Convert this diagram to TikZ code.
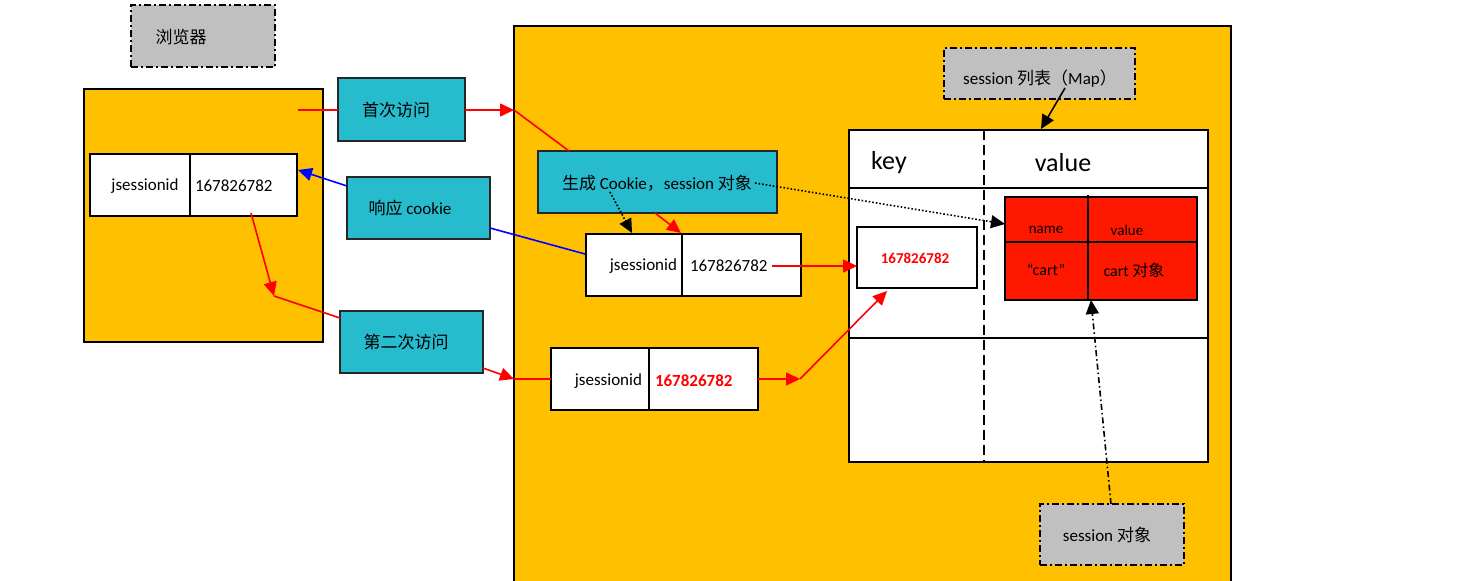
\documentclass[tikz,border=0pt]{standalone}
\usepackage{fontspec}
\setmainfont{Carlito}
\newfontfamily\cjk{Noto Sans CJK SC}
\usetikzlibrary{arrows.meta,fit}
\definecolor{amber}{RGB}{255,192,0}
\definecolor{tealbox}{RGB}{38,188,206}
\definecolor{greybox}{RGB}{192,192,192}
\definecolor{cellred}{RGB}{255,24,0}
\newcommand\zh[1]{{\cjk #1}}

\begin{document}
\begin{tikzpicture}[x=1pt,y=-1pt,
  font=\fontsize{17}{20}\selectfont,
  every node/.style={inner sep=0pt, outer sep=0pt},
  panel/.style={draw=black, line width=2pt, fill=amber},
  tag/.style={draw=black, line width=2pt, fill=greybox,
    dash pattern=on 7pt off 3pt on 2pt off 3pt},
  action/.style={draw=black!85, line width=2pt, fill=tealbox},
  cell/.style={draw=black, line width=1.5pt, fill=white},
  redcell/.style={draw=black, line width=1.5pt, fill=cellred},
  tip/.style={-{Triangle[length=14pt,width=13pt]}},
  redline/.style={draw=red, line width=1.6pt},
  blueline/.style={draw=blue, line width=1.6pt},
  hot/.style={text=red, font=\fontsize{17}{20}\selectfont\bfseries},
]
\useasboundingbox (0,0) rectangle (1470,581);

% browser side
\node[tag, fit={(131,5) (275,67)}] (browsertag) {};
\node at (181,37) (browserlbl) {\zh{浏览器}};
\node[panel, fit={(84,89) (323,342)}] (browser) {};
\node[cell, fit={(90,154) (190,216)}] (bkey) {};
\node[cell, fit={(190,154) (297,216)}] (bval) {};
\node at (145,186) (bkeyt) {jsessionid};
\node[anchor=west] at (195,186) (bvalt) {167826782};

% server side
\node[panel, fit={(514,26) (1231,590)}] (server) {};

% request / response steps
\node[action, fit={(338,78) (465,141)}] (first) {};
\node at (396,110) (firstt) {\zh{首次访问}};
\node[action, fit={(347,177) (490,239)}] (resp) {};
\node at (410,208) (respt) {\zh{响应} cookie};
\node[action, fit={(340,311) (483,373)}] (second) {};
\node at (406,342) (secondt) {\zh{第二次访问}};
\node[action, fit={(538,151) (777,213)}] (gen) {};
\node at (657,183) (gent) {\zh{生成} Cookie\zh{，}session \zh{对象}};

% cookies held on the server
\node[cell, fit={(586,234) (682,296)}] (s1key) {};
\node[cell, fit={(682,234) (801,296)}] (s1val) {};
\node[anchor=east] at (677,266) (s1keyt) {jsessionid};
\node[anchor=west] at (690,266) (s1valt) {167826782};
\node[cell, fit={(551,348) (649,410)}] (s2key) {};
\node[cell, fit={(649,348) (758,410)}] (s2val) {};
\node[anchor=east] at (642,381) (s2keyt) {jsessionid};
\node[hot, anchor=west] at (655,381) (s2valt) {167826782};

% session map
\node[cell, line width=2pt, fit={(849,130) (1208,462)}] (map) {};
\draw[line width=1.5pt] (849,188) -- (1208,188);
\draw[line width=1.5pt] (849,338) -- (1208,338);
\draw[line width=2pt, dash pattern=on 10pt off 5pt] (984,130) -- (984,462);
\node[font=\fontsize{26}{30}\selectfont] at (889,163) (keyt) {key};
\node[font=\fontsize{26}{30}\selectfont] at (1063,163) (valuet) {value};
\node[cell, fit={(857,227) (977,288)}] (mkey) {};
\node[hot, font=\fontsize{15}{18}\selectfont\bfseries] at (915,258) (mkeyt) {167826782};
\node[redcell, fit={(1005,197) (1197,300)}] (sess) {};
\draw[line width=1.5pt] (1005,242) -- (1197,242);
\draw[line width=1.5pt] (1088,195) -- (1088,300);
\node[font=\fontsize{15}{18}\selectfont] at (1046,230) (namet) {name};
\node[font=\fontsize{15}{18}\selectfont] at (1127,230) (valt) {value};
\node[font=\fontsize{16}{18}\selectfont] at (1046,270) (cartt) {“cart”};
\node[font=\fontsize{16}{18}\selectfont] at (1134,270) (cartobj) {cart \zh{对象}};

\node[tag, fit={(944,48) (1135,99)}] (maptag) {};
\node at (1040,79) (maptagt) {session \zh{列表（}Map\zh{）}};
\node[tag, fit={(1040,504) (1184,565)}] (sesstag) {};
\node at (1107,535) (sesstagt) {session \zh{对象}};

% connector end points
\coordinate (b1) at (298,110);
\coordinate (s1) at (514,110);
\coordinate (g1) at (569,151);
\coordinate (g2) at (655,213);
\coordinate (v1) at (681,233);
\coordinate (d1) at (610,192);
\coordinate (d2) at (632,233);
\coordinate (d3) at (755,183);
\coordinate (d4) at (1005,224);
\coordinate (u1) at (585,254);
\coordinate (u2) at (490,228);
\coordinate (u3) at (347,186);
\coordinate (u4) at (298,170);
\coordinate (k1) at (772,266);
\coordinate (k2) at (857,266);
\coordinate (c1) at (251,213);
\coordinate (c2) at (274,296);
\coordinate (c3) at (340,318);
\coordinate (e1) at (483,368);
\coordinate (e2) at (514,379);
\coordinate (e3) at (551,379);
\coordinate (f1) at (758,379);
\coordinate (f2) at (800,379);
\coordinate (f3) at (887,291);
\coordinate (m1) at (1065,88);
\coordinate (m2) at (1041,129);
\coordinate (o1) at (1111,504);
\coordinate (o2) at (1091,300);

% first visit
\draw[redline] (b1) -- (first.west |- b1);
\draw[redline, tip, red] (first.east |- b1) -- (s1);
\draw[redline] (s1) -- (g1);
\draw[redline, tip, red] (g2) -- (v1);
\draw[line width=1.6pt, dotted, tip] (d1) -- (d2);
\draw[line width=1.6pt, dotted, tip] (d3) -- (d4);
% response
\draw[blueline] (u1) -- (u2);
\draw[blueline, tip, blue] (u3) -- (u4);
\draw[redline, tip, red] (k1) -- (k2);
% second visit
\draw[redline, tip, red] (c1) -- (c2);
\draw[redline] (c2) -- (c3);
\draw[redline, tip, red] (e1) -- (e2);
\draw[redline] (e2) -- (e3);
\draw[redline, tip, red] (f1) -- (f2);
\draw[redline, tip, red] (f2) -- (f3);
% tags
\draw[line width=1.6pt, tip] (m1) -- (m2);
\draw[line width=1.6pt, dash pattern=on 6pt off 3pt on 1.5pt off 3pt, tip] (o1) -- (o2);
\end{tikzpicture}
\end{document}
